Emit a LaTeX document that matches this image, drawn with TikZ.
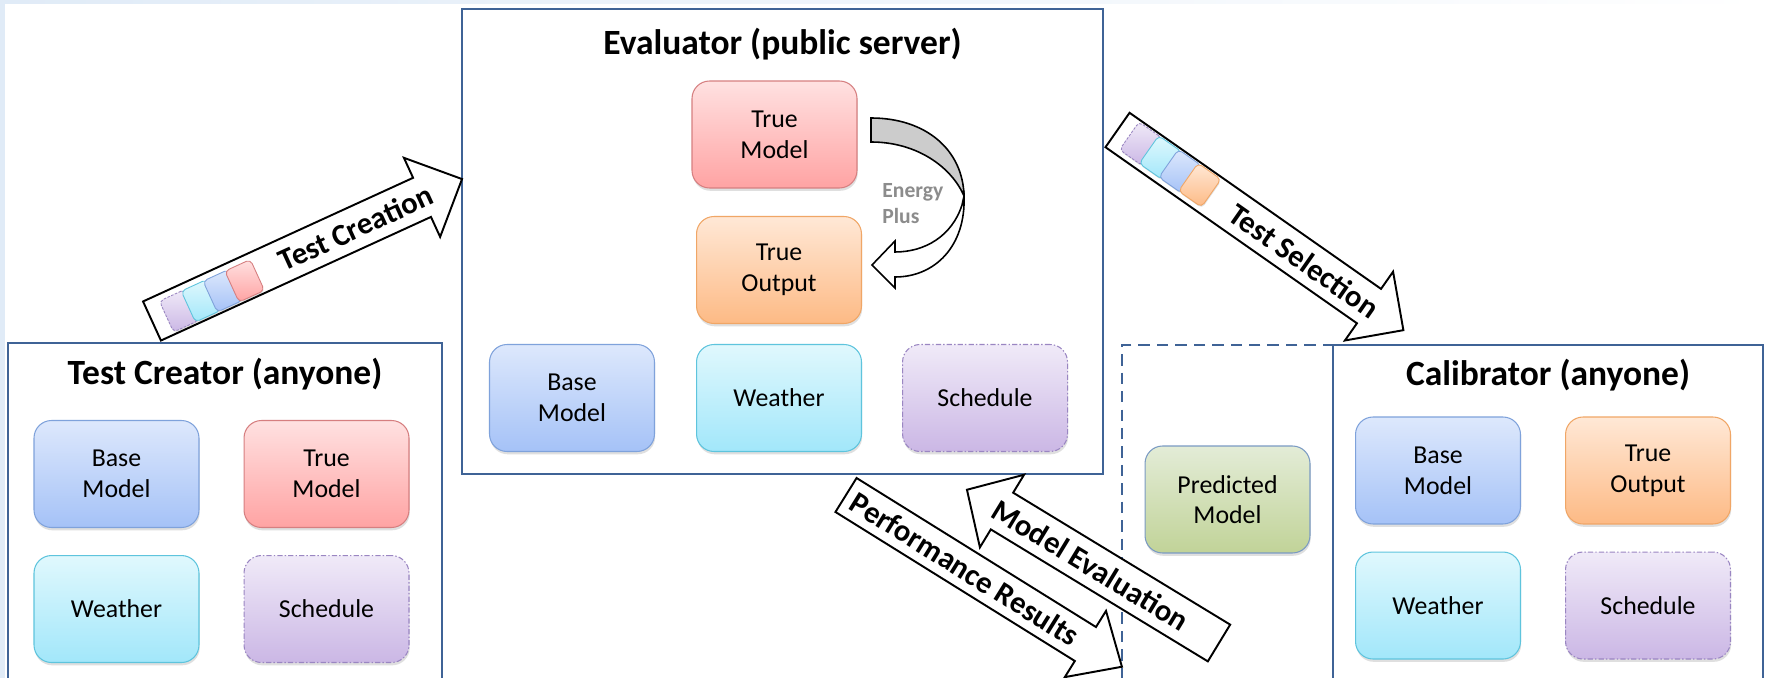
\documentclass[tikz,border=0pt]{standalone}
\usepackage{fontspec}
\setmainfont{Carlito}
\usepackage{xcolor}
\usepackage{tikz}
\usetikzlibrary{positioning,fit,shadows}

\definecolor{panelLine}{HTML}{3F6396}
\definecolor{bgBlue}{HTML}{E0EBF7}
\definecolor{baseTop}{HTML}{DDE8FC}
\definecolor{baseBot}{HTML}{A5C2F7}
\definecolor{baseLine}{HTML}{7FA2DB}
\definecolor{trueTop}{HTML}{FFE1E1}
\definecolor{trueBot}{HTML}{FFA3A3}
\definecolor{trueLine}{HTML}{D67F80}
\definecolor{wthTop}{HTML}{E0F8FD}
\definecolor{wthBot}{HTML}{A2E7FA}
\definecolor{wthLine}{HTML}{5EC4DD}
\definecolor{schTop}{HTML}{F0EAF8}
\definecolor{schBot}{HTML}{CBB7E5}
\definecolor{schLine}{HTML}{9A86C2}
\definecolor{outTop}{HTML}{FFE8D6}
\definecolor{outBot}{HTML}{FDBA85}
\definecolor{outLine}{HTML}{F0A666}
\definecolor{predTop}{HTML}{E3ECD7}
\definecolor{predBot}{HTML}{C1D398}
\definecolor{predLine}{HTML}{7A9AC3}
\definecolor{energyGray}{HTML}{8C8C8C}

\begin{document}
\begin{tikzpicture}[
    x=0.02cm, y=-0.02cm,
    node distance=0.54cm and 0.88cm,
    panel/.style={draw=panelLine, line width=1.1pt, fill=white, inner sep=0pt},
    title/.style={font=\fontsize{20.2}{24}\selectfont\bfseries, anchor=base},
    box/.style={rounded corners=0.35cm, minimum width=3.3cm, minimum height=2.14cm, align=center,
        font=\fontsize{14.7}{17.5}\selectfont, line width=0.6pt,
        drop shadow={shadow xshift=0.4pt, shadow yshift=-1.6pt, opacity=0.25}},
    basebox/.style={box, draw=baseLine, top color=baseTop, bottom color=baseBot},
    truebox/.style={box, draw=trueLine, top color=trueTop, bottom color=trueBot},
    wthbox/.style={box, draw=wthLine, top color=wthTop, bottom color=wthBot},
    schbox/.style={box, draw=schLine, top color=schTop, bottom color=schBot,
        dash pattern=on 3pt off 1.2pt on 0.8pt off 1.2pt},
    outbox/.style={box, draw=outLine, top color=outTop, bottom color=outBot},
    predbox/.style={box, draw=predLine, top color=predTop, bottom color=predBot},
    mini/.style={rounded corners=2.5pt, minimum width=0.56cm, minimum height=0.68cm, inner sep=0pt,
        line width=0.5pt, drop shadow={shadow xshift=0.3pt, shadow yshift=-0.8pt, opacity=0.25}},
    blockarrow/.style={draw=black, line width=1.1pt, fill=white, line join=miter},
    arrowtext/.style={font=\fontsize{17.5}{20}\selectfont\bfseries},
]
\useasboundingbox (0,0) rectangle (1767,678);
\clip (0,0) rectangle (1767,678);

% slide edges
\fill[left color=bgBlue, right color=white] (0,0) rectangle (1767,4);
\fill[bgBlue] (0,0) rectangle (5,678);

% panels
\node[draw=panelLine, line width=1.1pt, dash pattern=on 6.5pt off 4pt, inner sep=0pt,
      fit={(1122,345) (1345,720)}] (predRegion) {};
\node[panel, fit={(8,343) (442,720)}] (creator) {};
\node[panel, fit={(462,9) (1103,474)}] (evaluator) {};
\node[panel, fit={(1333,345) (1763,720)}] (calibrator) {};

\node[title] (creatorTitle) at ([yshift=-0.85cm]creator.north) {Test Creator (anyone)};
\node[title] (evalTitle) at ([yshift=-0.92cm]evaluator.north) {Evaluator (public server)};
\node[title] (calTitle) at ([yshift=-0.82cm]calibrator.north) {Calibrator (anyone)};

% test creator
\node[basebox] (cBase) at (116.5,474) {Base\\Model};
\node[truebox, right=of cBase] (cTrue) {True\\Model};
\node[wthbox, below=of cBase] (cWeather) {Weather};
\node[schbox, right=of cWeather] (cSched) {Schedule};

% evaluator
\node[truebox] (eTrueM) at (774.5,134.5) {True\\Model};
\node[outbox] (eTrueO) at (779,270) {True\\Output};
\node[basebox] (eBase) at (572,398) {Base\\Model};
\node[wthbox, right=0.82cm of eBase] (eWeather) {Weather};
\node[schbox, right=0.8cm of eWeather] (eSched) {Schedule};

% calibrator
\node[predbox] (pred) at (1227.5,499.5) {Predicted\\Model};
\node[basebox] (calBase) at (1438,470.5) {Base\\Model};
\node[outbox, right=of calBase] (calTrueO) {True\\Output};
\node[wthbox, below=of calBase] (calWeather) {Weather};
\node[schbox, right=of calWeather] (calSched) {Schedule};

% EnergyPlus curved arrow
\draw[blockarrow, line width=0.9pt] (964,196) .. controls (966,246) and (935,277) .. (895,277)
    -- (895,288) -- (872,265) -- (895,241) -- (895,252)
    .. controls (925,252) and (952,236) .. (962,205) -- cycle;
\draw[blockarrow, line width=0.9pt, fill=gray!40] (871,118) .. controls (926,118) and (963,150) .. (964,196)
    .. controls (952,168) and (918,142) .. (871,142) -- cycle;
\node[font=\fontsize{12.3}{14.8}\selectfont\bfseries, text=energyGray, align=left, anchor=west, inner sep=0pt]
    (energy) at (882,204) {Energy\\Plus};

% test creation
\begin{scope}[shift={(152,321)}, rotate=24.6]
  \draw[blockarrow] (0,-21.5) -- (297,-21.5) -- (297,-43.5) -- (341,0) -- (297,43.5) -- (297,21.5) -- (0,21.5) -- cycle;
  \node[mini, rotate=24.6, draw=schLine, top color=schTop, bottom color=schBot, dash pattern=on 1.5pt off 0.8pt] (cmSch) at (29,2) {};
  \node[mini, rotate=24.6, draw=wthLine, top color=wthTop, bottom color=wthBot] (cmWth) at (53,2) {};
  \node[mini, rotate=24.6, draw=baseLine, top color=baseTop, bottom color=baseBot] (cmBase) at (77,2) {};
  \node[mini, rotate=24.6, draw=trueLine, top color=trueTop, bottom color=trueBot] (cmTrue) at (101,2) {};
  \node[arrowtext, rotate=24.6] (creationLbl) at (224,0) {Test Creation};
\end{scope}

% test selection
\begin{scope}[shift={(1117.5,130)}, rotate=-35]
  \draw[blockarrow] (0,-21) -- (307,-21) -- (307,-42) -- (349,0) -- (307,42) -- (307,21) -- (0,21) -- cycle;
  \node[mini, rotate=-35, draw=schLine, top color=schTop, bottom color=schBot, dash pattern=on 1.5pt off 0.8pt] (smSch) at (27,-2) {};
  \node[mini, rotate=-35, draw=wthLine, top color=wthTop, bottom color=wthBot] (smWth) at (51,-2) {};
  \node[mini, rotate=-35, draw=baseLine, top color=baseTop, bottom color=baseBot] (smBase) at (75,-2) {};
  \node[mini, rotate=-35, draw=outLine, top color=outTop, bottom color=outBot] (smOut) at (99,-2) {};
  \node[arrowtext, rotate=-35] (selectionLbl) at (228,0) {Test Selection};
\end{scope}

% performance results
\begin{scope}[shift={(846,495)}, rotate=-31.9]
  \draw[blockarrow] (0,-20) -- (282,-20) -- (282,-39) -- (325,0) -- (282,39) -- (282,20) -- (0,20) -- cycle;
  \node[arrowtext, rotate=-31.9] (perfLbl) at (140,0) {Performance Results};
\end{scope}

% model evaluation
\begin{scope}[shift={(1219,643)}, rotate=148.7]
  \draw[blockarrow] (0,-21.5) -- (254,-21.5) -- (254,-42.5) -- (295,0) -- (254,42.5) -- (254,21.5) -- (0,21.5) -- cycle;
  \node[arrowtext, rotate=-31.3] (modelEvalLbl) at (150,0) {Model Evaluation};
\end{scope}
\end{tikzpicture}
\end{document}
